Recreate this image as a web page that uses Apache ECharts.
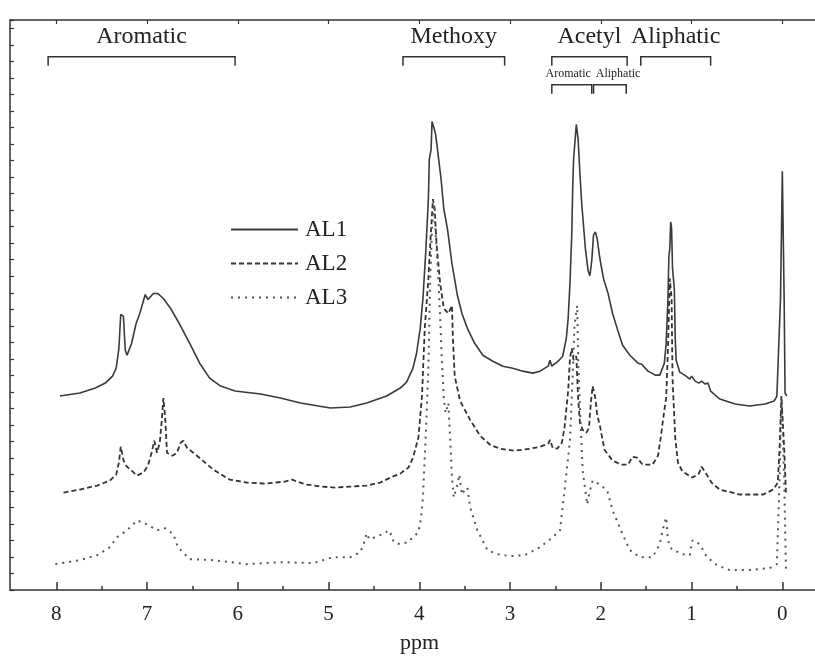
<!DOCTYPE html>
<html><head><meta charset="utf-8">
<script src="https://cdn.jsdelivr.net/npm/echarts@6/dist/echarts.min.js"></script>
<style>html,body{margin:0;padding:0;background:#fff}#c{width:815px;height:659px}</style>
</head><body><div id="c"></div>
<script>
// ---- data (ppm, intensity in arbitrary units) ----
const xTickLabels = [0, 1, 2, 3, 4, 5, 6, 7, 8];
const xMinorTicks = [0.5, 1.5, 2.5, 3.5, 4.5, 5.5, 6.5, 7.5];

const al1Ppm = [7.96,7.74,7.57,7.46,7.38,7.34,7.31,7.29,7.26,7.24,7.22,7.17,7.12,7.08,7.02,6.99,6.93,6.88,6.82,6.74,6.64,6.53,6.42,6.31,6.19,6.03,5.75,5.53,5.31,4.98,4.76,4.58,4.36,4.21,4.14,4.07,4.03,3.99,3.96,3.93,3.90,3.89,3.87,3.86,3.84,3.82,3.80,3.76,3.73,3.69,3.64,3.58,3.53,3.47,3.39,3.30,3.19,3.08,2.97,2.86,2.75,2.67,2.58,2.56,2.54,2.47,2.42,2.38,2.36,2.34,2.32,2.31,2.30,2.27,2.25,2.23,2.21,2.17,2.14,2.12,2.10,2.08,2.06,2.04,2.01,1.97,1.92,1.87,1.81,1.76,1.68,1.59,1.55,1.48,1.40,1.35,1.30,1.28,1.26,1.25,1.24,1.23,1.22,1.21,1.19,1.18,1.17,1.13,1.06,1.02,1.00,0.96,0.92,0.89,0.85,0.82,0.79,0.69,0.52,0.36,0.19,0.09,0.06,0.04,0.02,0.00,-0.02,-0.03,-0.05];
const al1Int = [195,198,203,208,215,223,243,277,275,241,236,248,268,278,297,292,298,298,293,283,267,248,228,213,205,200,197,193,188,183,184,188,195,203,209,223,238,263,293,338,393,433,443,471,465,458,443,413,383,363,328,296,278,263,248,236,230,225,223,220,218,220,225,231,225,230,235,253,273,308,358,403,433,468,453,418,388,343,321,316,331,357,360,353,333,313,298,278,260,246,236,228,227,220,216,216,228,248,293,336,343,370,363,323,303,253,231,219,215,212,215,210,208,210,207,208,200,192,187,185,187,190,195,193,293,421,293,198,195];

const al2Ppm = [7.92,7.74,7.55,7.41,7.34,7.31,7.29,7.26,7.24,7.21,7.17,7.11,7.04,6.99,6.95,6.92,6.89,6.86,6.84,6.82,6.80,6.78,6.72,6.67,6.63,6.60,6.56,6.45,6.27,6.09,5.90,5.70,5.48,5.40,5.35,5.24,5.09,4.93,4.76,4.58,4.43,4.32,4.21,4.12,4.07,4.01,3.97,3.94,3.90,3.87,3.85,3.83,3.81,3.77,3.73,3.68,3.64,3.63,3.61,3.55,3.44,3.33,3.22,3.11,2.95,2.78,2.67,2.58,2.56,2.53,2.48,2.43,2.40,2.36,2.34,2.32,2.30,2.27,2.25,2.23,2.20,2.16,2.13,2.11,2.09,2.06,2.04,2.01,1.96,1.87,1.77,1.70,1.65,1.60,1.54,1.43,1.37,1.34,1.30,1.28,1.26,1.24,1.22,1.21,1.18,1.15,1.10,0.99,0.92,0.89,0.84,0.78,0.69,0.47,0.21,0.10,0.05,0.03,0.01,-0.02,-0.04];
const al2Int = [98,101,105,110,116,128,144,131,126,123,120,115,118,125,138,150,138,148,168,193,173,138,135,138,148,150,143,135,121,111,108,107,109,111,109,106,104,103,104,105,108,113,117,123,133,153,196,263,313,363,393,383,348,308,283,278,286,253,215,190,171,155,146,142,140,142,144,147,151,143,142,148,163,200,233,243,231,235,193,168,161,158,163,188,205,193,176,165,141,130,126,126,134,133,126,126,135,153,181,193,243,313,293,213,153,128,119,113,117,124,117,108,101,96,96,101,108,143,195,143,98];

const al3Ppm = [8.01,7.74,7.55,7.41,7.33,7.22,7.11,7.00,6.89,6.80,6.71,6.66,6.53,6.27,5.90,5.53,5.17,4.95,4.76,4.65,4.61,4.58,4.55,4.49,4.41,4.33,4.28,4.21,4.13,4.07,4.01,3.98,3.96,3.93,3.90,3.88,3.86,3.84,3.82,3.79,3.77,3.75,3.73,3.71,3.68,3.66,3.64,3.62,3.58,3.56,3.53,3.50,3.47,3.44,3.36,3.25,3.14,3.00,2.84,2.67,2.53,2.45,2.40,2.34,2.31,2.29,2.26,2.25,2.23,2.20,2.15,2.12,2.09,2.01,1.93,1.87,1.76,1.68,1.57,1.43,1.35,1.32,1.28,1.26,1.22,1.10,1.02,0.99,0.91,0.83,0.72,0.58,0.36,0.14,0.06,0.03,0.01,-0.02,-0.04];
const al3Int = [26,30,35,43,53,60,70,66,60,62,56,43,31,30,26,28,27,33,33,38,47,57,51,53,56,60,48,46,48,53,58,73,93,153,223,313,363,388,358,313,273,228,193,178,188,153,113,93,106,116,96,101,103,83,60,40,36,34,35,43,53,60,100,150,216,266,286,233,183,120,86,100,110,106,100,80,56,40,33,33,46,60,73,50,41,36,35,50,46,33,25,20,20,22,26,113,193,113,21];

const seriesNames = ['AL1', 'AL2', 'AL3'];

const bracketNames = ['Aromatic', 'Methoxy', 'Acetyl', 'Aliphatic'];
const bracketFrom = [8.09, 4.18, 2.54, 1.56];
const bracketTo = [6.03, 3.06, 1.71, 0.79];
const subNames = ['Aromatic', 'Aliphatic'];
const subFrom = [2.54, 2.08];
const subTo = [2.10, 1.72];
const subLabelAt = [2.36, 1.81];

// ---- chart ----
const FONT = '"Liberation Serif","Times New Roman",serif';
const INK = '#333';
const X_MIN = -0.36, X_MAX = 8.51, Y_MAX = 573;
const LV_TEXT = 556, LV_BRACKET = 536, LV_SUBTEXT = 519, LV_SUB = 508;

const pairs = (p, v) => p.map((x, i) => [x, v[i]]);
const chart = echarts.init(document.getElementById('c'));

function bracketPath(x1, x2, lv, api, w) {
  const a = api.coord([x1, lv]), b = api.coord([x2, lv]);
  return { type: 'polyline', shape: { points: [[a[0], a[1] + 9], [a[0], a[1]], [b[0], b[1]], [b[0], b[1] + 9]] },
           style: { stroke: INK, lineWidth: w, fill: null } };
}

const baseX = { type: 'value', min: X_MIN, max: X_MAX, inverse: true, splitLine: { show: false } };

chart.setOption({
  animation: false,
  backgroundColor: '#fff',
  grid: { left: 10, right: 0, top: 20, bottom: 66 },
  legend: {
    data: seriesNames, orient: 'vertical', left: 225, top: 213,
    itemWidth: 67, itemHeight: 14, itemGap: 11, selectedMode: false,
    itemStyle: { opacity: 0, color: 'rgba(0,0,0,0)', borderWidth: 0 },
    textStyle: { fontFamily: FONT, fontSize: 23, color: '#222', padding: [0, 0, 0, 2] }
  },
  xAxis: [
    Object.assign({}, baseX, {
      position: 'bottom',
      axisLine: { show: true, onZero: false, lineStyle: { color: INK, width: 1.5 } },
      axisTick: { show: true, inside: true, length: 8, customValues: xTickLabels, lineStyle: { color: INK, width: 1.5 } },
      axisLabel: { show: true, customValues: xTickLabels, margin: 14, fontFamily: FONT, fontSize: 21, color: '#222' },
      name: 'ppm', nameLocation: 'middle', nameGap: 42,
      nameTextStyle: { fontFamily: FONT, fontSize: 22, color: '#222', padding: [0, 0, 0, 14] }
    }),
    Object.assign({}, baseX, {
      position: 'bottom',
      axisLine: { show: false, onZero: false },
      axisTick: { show: true, inside: true, length: 4, customValues: xMinorTicks, lineStyle: { color: INK, width: 1.5 } },
      axisLabel: { show: false }
    }),
    Object.assign({}, baseX, {
      position: 'top',
      axisLine: { show: true, onZero: false, lineStyle: { color: INK, width: 1.5 } },
      axisTick: { show: true, inside: true, length: 4, customValues: xTickLabels, lineStyle: { color: INK, width: 1.2 } },
      axisLabel: { show: false }
    })
  ],
  yAxis: {
    type: 'value', min: 0, max: Y_MAX, interval: 16.6,
    axisLine: { show: true, onZero: false, lineStyle: { color: INK, width: 1.5 } },
    axisTick: { show: true, inside: true, length: 4, lineStyle: { color: INK, width: 1.2 } },
    axisLabel: { show: false }, splitLine: { show: false }
  },
  series: [
    { name: 'AL1', type: 'line', data: pairs(al1Ppm, al1Int), symbol: 'none', smooth: false,
      lineStyle: { color: '#3a3a3a', width: 1.6, type: 'solid' }, itemStyle: { color: '#3a3a3a' } },
    { name: 'AL2', type: 'line', data: pairs(al2Ppm, al2Int), symbol: 'none', smooth: false,
      lineStyle: { color: '#333', width: 1.8, type: [5, 3] }, itemStyle: { color: '#333' } },
    { name: 'AL3', type: 'line', data: pairs(al3Ppm, al3Int), symbol: 'none', smooth: false,
      lineStyle: { color: '#555', width: 2, type: [2, 5] }, itemStyle: { color: '#555' } },
    { type: 'custom', silent: true, clip: false, z: 5,
      data: bracketNames.map((n, i) => [bracketFrom[i], bracketTo[i], i]),
      renderItem: (params, api) => {
        const i = api.value(2);
        const x1 = api.value(0), x2 = api.value(1);
        const c = api.coord([(x1 + x2) / 2, LV_TEXT]);
        return { type: 'group', children: [
          bracketPath(x1, x2, LV_BRACKET, api, 1.5),
          { type: 'text', style: { text: bracketNames[i], x: c[0], y: c[1], align: 'center', verticalAlign: 'middle',
            font: '24px ' + FONT, fill: '#222' } }
        ] };
      } },
    { type: 'custom', silent: true, clip: false, z: 5,
      data: subNames.map((n, i) => [subFrom[i], subTo[i], i]),
      renderItem: (params, api) => {
        const i = api.value(2);
        const c = api.coord([subLabelAt[i], LV_SUBTEXT]);
        return { type: 'group', children: [
          bracketPath(api.value(0), api.value(1), LV_SUB, api, 1.5),
          { type: 'text', style: { text: subNames[i], x: c[0], y: c[1], align: 'center', verticalAlign: 'middle',
            font: '12px ' + FONT, fill: '#222' } }
        ] };
      } }
  ]
});
</script>
</body></html>
